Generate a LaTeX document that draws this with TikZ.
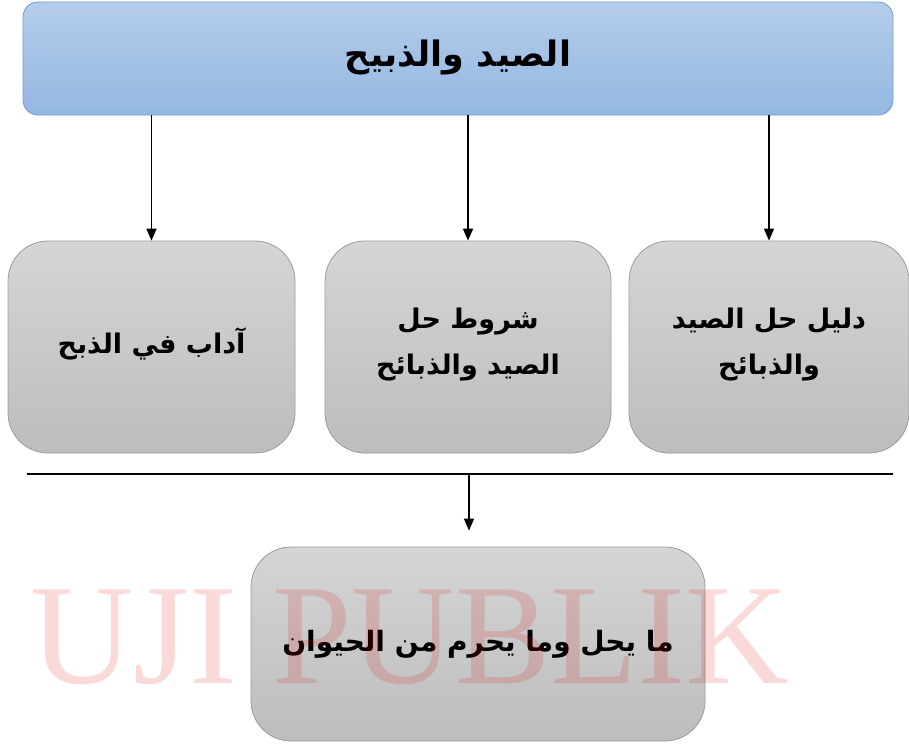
\documentclass[tikz,border=0pt]{standalone}
\usepackage{fontspec}
\TeXXeTstate=1
\setmainfont{Liberation Serif}
\newfontfamily\arabicfont[Script=Arabic]{DejaVu Sans}
\usetikzlibrary{arrows.meta}
\definecolor{blueTop}{HTML}{B4CDEA}
\definecolor{blueBot}{HTML}{94B7E2}
\definecolor{blueLine}{HTML}{6F9CD2}
\definecolor{grayTop}{HTML}{D5D5D5}
\definecolor{grayBot}{HTML}{BDBDBD}
\definecolor{grayLine}{HTML}{9C9C9C}
\definecolor{wmred}{HTML}{E00000}
\tikzset{
  titlebox/.style={draw=blueLine, line width=0.8pt, top color=blueTop, bottom color=blueBot,
    rounded corners=15pt, minimum width=870pt, minimum height=113pt, inner sep=0pt,
    font=\arabicfont\bfseries\fontsize{35}{40}\selectfont},
  graybox/.style={draw=grayLine, line width=0.8pt, top color=grayTop, bottom color=grayBot,
    rounded corners=40pt, minimum height=212pt, inner sep=0pt, align=center,
    font=\arabicfont\bfseries\fontsize{27}{46}\selectfont},
  arr/.style={line width=1.6pt, -{Triangle[length=12pt,width=10pt]}},
  plain/.style={line width=1.2pt}
}
\begin{document}
\begin{tikzpicture}[x=1pt,y=-1pt]
\useasboundingbox (0,0) rectangle (909,744);
\node[titlebox] (title) at (458,58.5) {\raisebox{10pt}{\beginR الصيد والذبيح\endR}};
\node[graybox, minimum width=287pt] (b1) at (151.5,347) {\raisebox{12pt}{\beginR آداب في الذبح\endR}};
\node[graybox, minimum width=286pt] (b2) at (468,347) {\raisebox{12pt}{\beginR شروط حل\endR}\\\raisebox{12pt}{\beginR الصيد والذبائح\endR}};
\node[graybox, minimum width=280pt] (b3) at (769,347) {\raisebox{12pt}{\beginR دليل حل الصيد\endR}\\\raisebox{12pt}{\beginR والذبائح\endR}};
\node[graybox, minimum width=454pt, minimum height=194pt, font=\arabicfont\bfseries\fontsize{28}{34}\selectfont] (b4) at (478,644) {\raisebox{4pt}{\beginR ما يحل وما يحرم من الحيوان\endR}};
\draw[arr] (title.south -| b1.north) -- (b1.north);
\draw[arr] (title.south -| b2.north) -- (b2.north);
\draw[arr] (title.south -| b3.north) -- (b3.north);
\coordinate (hl) at (27,474);
\coordinate (hr) at (893,474);
\coordinate (hm) at (469,474);
\draw[plain] (hl) -- (hr);
\draw[arr, shorten >=16pt] (hm) -- (hm |- b4.north);
\node[anchor=base west, inner sep=0pt, text=wmred, text opacity=0.15, font=\fontsize{143}{143}\selectfont] (wm) at (30,683) {UJI PUBLIK};
\end{tikzpicture}
\end{document}
